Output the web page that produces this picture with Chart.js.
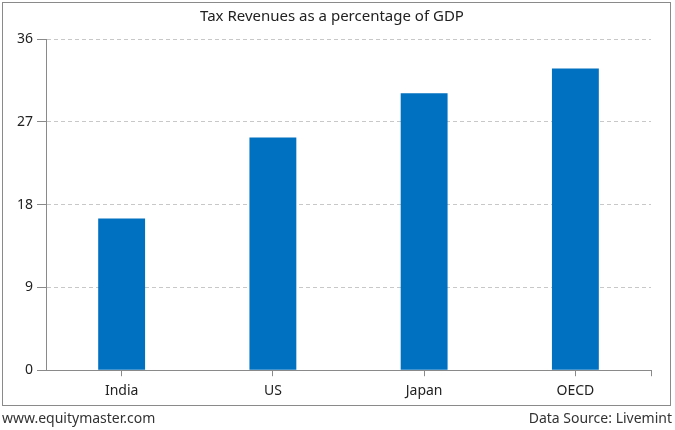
<!DOCTYPE html>
<html>
<head>
<meta charset="utf-8">
<script src="https://cdn.jsdelivr.net/npm/chart.js@4/dist/chart.umd.min.js"></script>
<style>
  html, body { margin: 0; padding: 0; background: #fff; }
  #wrap { position: relative; width: 675px; height: 430px; overflow: hidden; }
  #box { position: absolute; left: 2px; top: 2px; width: 669px; height: 404px; border: 1px solid #8a8a8a; box-sizing: border-box; }
  #cv { position: absolute; left: 0; top: 0; }
  .foot { position: absolute; top: 408px; font-family: "Noto Sans", sans-serif; font-size: 14px; color: #333; }
</style>
</head>
<body>
<div id="wrap">
  <canvas id="cv" width="675" height="410"></canvas>
  <div id="box"></div>
  <div class="foot" style="left:2px">www.equitymaster.com</div>
  <div class="foot" style="right:3px">Data Source: Livemint</div>
</div>
<script>
const categories = ["India", "US", "Japan", "OECD"];
const taxRevenuePct = [16.5, 25.3, 30.1, 32.8];
const yTicks = [0, 9, 18, 27, 36];

const endTick = {
  id: 'endTick',
  afterDraw(chart) {
    const a = chart.chartArea, ctx = chart.ctx;
    ctx.save();
    ctx.strokeStyle = '#8a8a8a';
    ctx.lineWidth = 1;
    ctx.beginPath();
    ctx.moveTo(Math.round(a.right) + 0.5, a.bottom);
    ctx.lineTo(Math.round(a.right) + 0.5, a.bottom + 6);
    ctx.stroke();
    ctx.restore();
  }
};

new Chart(document.getElementById('cv'), {
  type: 'bar',
  data: {
    labels: categories,
    datasets: [{
      data: taxRevenuePct,
      backgroundColor: '#0070c0',
      barPercentage: 0.62,
      categoryPercentage: 0.5
    }]
  },
  options: {
    responsive: false,
    animation: false,
    layout: { padding: { left: 13, right: 24, top: 8, bottom: 5 } },
    plugins: {
      legend: { display: false },
      tooltip: { enabled: false },
      title: {
        display: true,
        text: 'Tax Revenues as a percentage of GDP',
        color: '#222',
        font: { family: '"Noto Sans", sans-serif', size: 15, weight: 'normal' },
        padding: { top: 0, bottom: 13 }
      }
    },
    scales: {
      x: {
        grid: { display: true, drawOnChartArea: false, offset: false, color: '#8a8a8a', tickLength: 6 },
        border: { display: true, color: '#8a8a8a' },
        ticks: { color: '#222', font: { family: '"Noto Sans", sans-serif', size: 14 }, padding: 6 }
      },
      y: {
        min: 0, max: 36,
        afterBuildTicks(axis) { axis.ticks = yTicks.map(v => ({ value: v })); },
        grid: { color: '#c8c8c8', tickColor: '#8a8a8a', tickBorderDash: [], tickLength: 9 },
        border: { display: true, color: '#8a8a8a', dash: [4, 3] },
        ticks: { color: '#222', font: { family: '"Noto Sans", sans-serif', size: 14 }, padding: 4 }
      }
    }
  },
  plugins: [endTick]
});
</script>
</body>
</html>
